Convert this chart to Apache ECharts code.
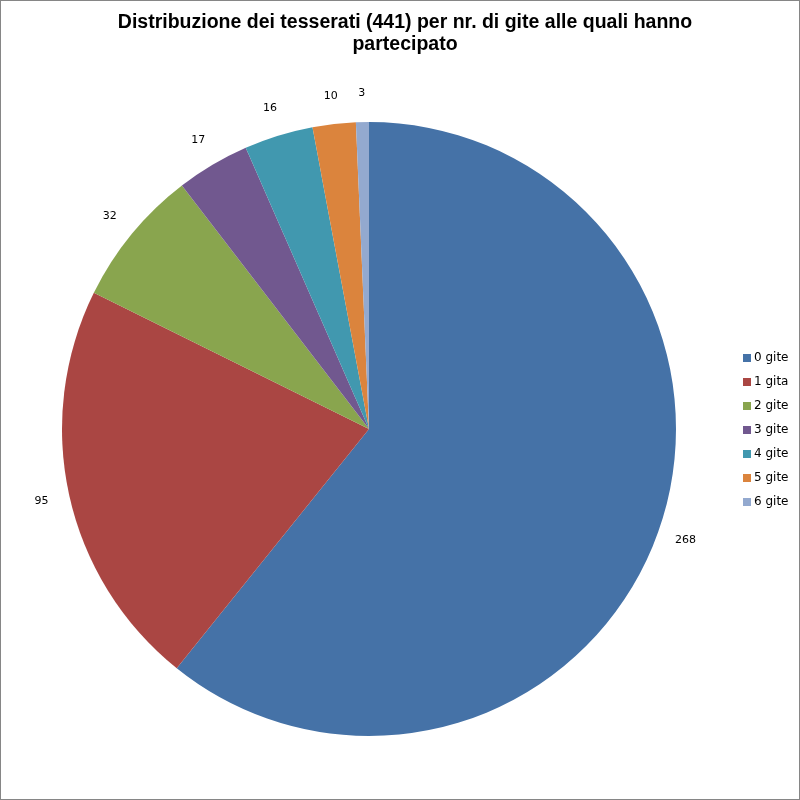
<!DOCTYPE html>
<html><head><meta charset="utf-8">
<script src="https://cdn.jsdelivr.net/npm/echarts@6/dist/echarts.min.js"></script>
<style>
html,body{margin:0;padding:0;background:#fff;}
#c{width:798px;height:798px;border:1px solid #868686;}
</style></head>
<body><div id="c"></div>
<script>
const categories = ['0 gite','1 gita','2 gite','3 gite','4 gite','5 gite','6 gite'];
const values = [268, 95, 32, 17, 16, 10, 3];
const colors = ['#4572A7','#AA4643','#89A54E','#71588F','#4198AF','#DB843D','#93A9CF'];

const pieData = categories.map((c,i)=>({name:c, value:values[i]}));
const chart = echarts.init(document.getElementById('c'));
chart.setOption({
  animation:false,
  color: colors,
  title:{
    text:'Distribuzione dei tesserati (441) per nr. di gite alle quali hanno\npartecipato',
    left:399, top:6, textAlign:'center',
    textStyle:{fontFamily:'Liberation Sans', fontWeight:'bold', fontSize:19.5, lineHeight:22, color:'#000'}
  },
  legend:{
    orient:'vertical', left:737, top:346,
    itemWidth:8, itemHeight:8, itemGap:12, icon:'rect',
    textStyle:{fontFamily:'DejaVu Sans', fontSize:12, color:'#000', padding:[0,0,0,-2]},
    data: categories
  },
  series:[{
    type:'pie',
    center:[368,428], radius:[0,307],
    startAngle:90, clockwise:true,
    data: pieData,
    label:{show:false},
    labelLine:{show:false},
    emphasis:{disabled:true}
  },{
    type:'pie', silent:true,
    center:[368,428], radius:[307,358],
    startAngle:90, clockwise:true,
    data: pieData,
    itemStyle:{color:'rgba(0,0,0,0)'},
    label:{show:true, position:'inside', formatter:'{c}', fontFamily:'DejaVu Sans', fontSize:11, color:'#000'},
    labelLine:{show:false},
    emphasis:{disabled:true}
  }]
});
</script></body></html>
